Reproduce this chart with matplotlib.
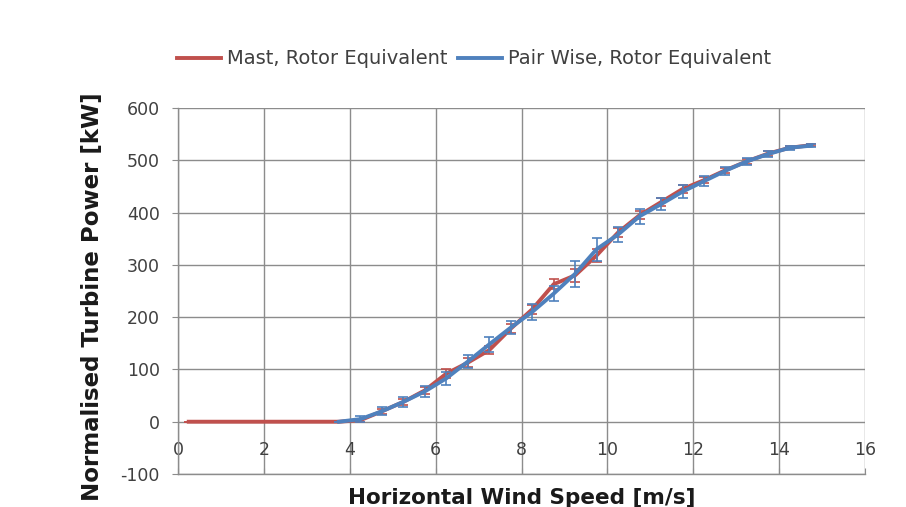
import matplotlib
matplotlib.use("Agg")
import matplotlib.pyplot as plt
import numpy as np

# ---- data ----
mast_x = [0.25, 0.75, 1.25, 1.75, 2.25, 2.75, 3.25, 3.75, 4.25, 4.75, 5.25, 5.75,
          6.25, 6.75, 7.25, 7.75, 8.25, 8.75, 9.25, 9.75, 10.25, 10.75, 11.25,
          11.75, 12.25, 12.75, 13.25, 13.75, 14.25, 14.75]
mast_y = [0, 0, 0, 0, 0, 0, 0, 0, 3, 20, 38, 60,
          92, 113, 137, 178, 215, 263, 280, 318, 362, 395, 420,
          445, 462, 481, 498, 513, 524, 529]
mast_err = [0, 0, 0, 0, 0, 0, 0, 0, 3, 5, 6, 7,
            9, 8, 8, 8, 9, 9, 12, 12, 9, 8, 8,
            7, 6, 5, 5, 4, 3, 2]

pair_x = [3.75, 4.25, 4.75, 5.25, 5.75, 6.25, 6.75, 7.25, 7.75, 8.25, 8.75,
          9.25, 9.75, 10.25, 10.75, 11.25, 11.75, 12.25, 12.75, 13.25, 13.75,
          14.25, 14.75]
pair_y = [0, 5, 20, 38, 58, 83, 115, 148, 180, 210, 245,
          283, 330, 358, 393, 416, 440, 460, 480, 498, 512, 524, 528]
pair_err = [0, 5, 8, 9, 10, 12, 12, 14, 12, 15, 14,
            25, 22, 15, 14, 12, 12, 10, 8, 7, 6, 4, 3]

x_ticks = [0, 2, 4, 6, 8, 10, 12, 14, 16]
y_ticks = [-100, 0, 100, 200, 300, 400, 500, 600]

legend_labels = ["Mast, Rotor Equivalent", "Pair Wise, Rotor Equivalent"]
x_label = "Horizontal Wind Speed [m/s]"
y_label = "Normalised Turbine Power [kW]"

# ---- style ----
red = "#C0504D"
blue = "#4F81BD"
grid_c = "#8C8C8C"
txt_c = "#404040"
plt.rcParams['font.family'] = ['DejaVu Sans']
plt.rcParams['axes.unicode_minus'] = False

fig = plt.figure(figsize=(9.06, 5.07), dpi=100)
ax = fig.add_axes([178/906, 1-474/507, (865-178)/906, (474-108)/507])

c1 = ax.errorbar(mast_x, mast_y, yerr=mast_err, color=red, lw=2.8, capsize=3.5,
                 elinewidth=1.2, capthick=1.2, zorder=3)
c2 = ax.errorbar(pair_x, pair_y, yerr=pair_err, color=blue, lw=2.8, capsize=3.5,
                 elinewidth=1.2, capthick=1.2, zorder=4)

ax.set_xlim(0, 16)
ax.set_ylim(-100, 600)
ax.set_xticks(x_ticks)
ax.set_yticks(y_ticks)
ax.grid(True, color=grid_c, lw=1.0)
ax.set_axisbelow(True)

for s in ["top", "right"]:
    ax.spines[s].set_visible(False)
for s in ["left", "bottom"]:
    ax.spines[s].set_color(grid_c)
    ax.spines[s].set_linewidth(1.0)

ax.tick_params(axis='y', direction='out', length=4, color=grid_c,
               labelsize=12.5, labelcolor=txt_c, pad=9)
ax.tick_params(axis='x', direction='in', length=4, color=grid_c,
               labelsize=12.5, labelcolor=txt_c, pad=-24)

ax.set_ylabel(y_label, fontsize=16.5, fontweight='bold', color='#1a1a1a')
ax.set_xlabel(x_label, fontsize=15.5, fontweight='bold', color='#1a1a1a', labelpad=10)
ax.yaxis.set_label_coords(-0.108, 0.484)

fig.legend([c1.lines[0], c2.lines[0]], legend_labels, loc='center',
           bbox_to_anchor=(474/906, 1-59/507), ncol=2,
           frameon=False, fontsize=14, handlelength=2.3, handletextpad=0.3,
           columnspacing=0.5, labelcolor=txt_c)

fig.savefig("out.png", dpi=100)
